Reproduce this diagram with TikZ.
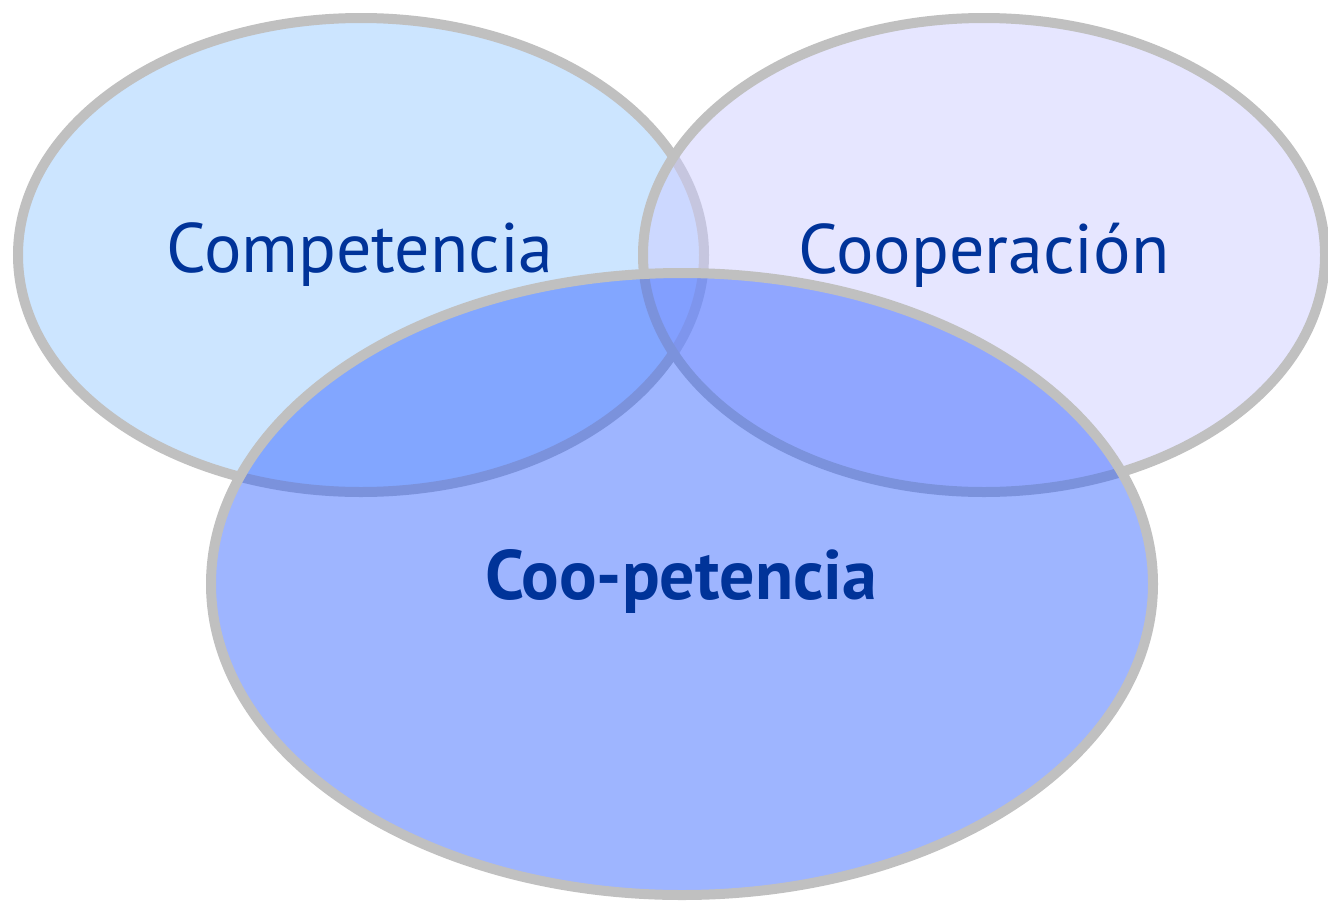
\documentclass[tikz,border=0pt]{standalone}
\usepackage{fontspec}
\setmainfont{PT Sans}
\definecolor{strokegray}{RGB}{192,192,192}
\definecolor{fillA}{RGB}{204,229,255}
\definecolor{fillB}{RGB}{205,205,255}
\definecolor{fillC}{RGB}{40,90,255}
\definecolor{txtblue}{RGB}{0,51,153}
\begin{document}
\begin{tikzpicture}[x=1pt,y=-1pt,
  ring/.style={draw=strokegray,line width=10pt},
  lbl/.style={text=txtblue,font=\fontsize{70}{74}\selectfont,inner sep=0pt}]
\useasboundingbox (0,0) rectangle (1328,900);
\fill[fillA] (361,255) ellipse [x radius=343,y radius=237];
\draw[ring] (361,255) ellipse [x radius=343,y radius=237];
\fill[fillB,fill opacity=0.5] (984,255) ellipse [x radius=341,y radius=237];
\draw[ring] (984,255) ellipse [x radius=341,y radius=237];
\fill[fillC,fill opacity=0.45] (682,584) ellipse [x radius=471,y radius=311];
\draw[ring] (682,584) ellipse [x radius=471,y radius=311];
\node[lbl] (comp) at (360,255) {Competencia};
\node[lbl] (coop) at (984,255) {Cooperación};
\node[lbl,font=\fontsize{70}{74}\selectfont\bfseries] (coopet) at (681,582) {Coo-petencia};
\end{tikzpicture}
\end{document}
